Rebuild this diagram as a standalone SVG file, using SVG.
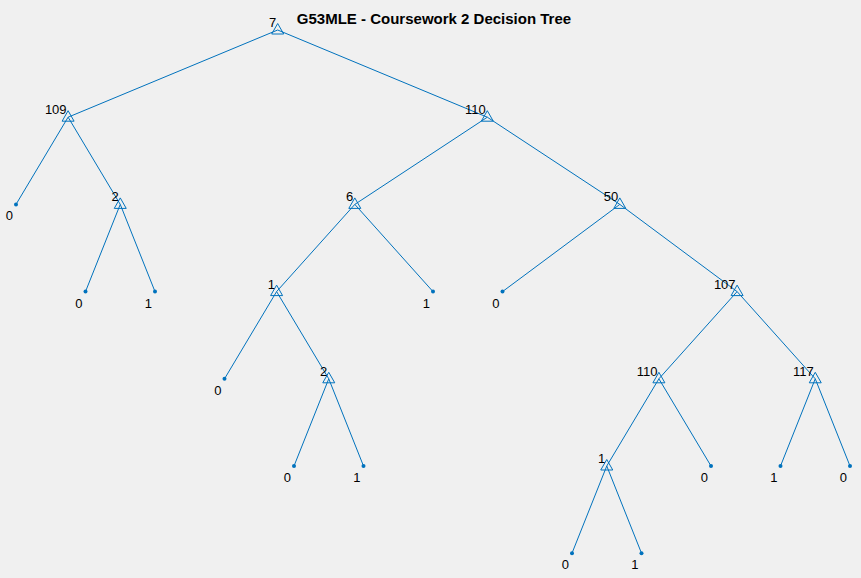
<svg xmlns="http://www.w3.org/2000/svg" xmlns:xlink="http://www.w3.org/1999/xlink" width="861" height="578" viewBox="0 0 861 578">
<style>
.bg{fill:#f0f0f0}
.edge{stroke:#0072bd;stroke-width:1;fill:none}
.tri{stroke:#0072bd;stroke-width:1;fill:none}
.dot{fill:#0072bd}
text{font-family:"Liberation Sans",Arial,sans-serif;font-size:13px;fill:#000}
.nl{text-anchor:end}
.ll{text-anchor:end}
.title{font-weight:bold;text-anchor:middle;font-size:15px}
</style>
<defs>
<polygon id="tri" class="tri" points="0,-6.5 -6,4 6,4"/>
<circle id="dot" class="dot" r="2"/>
</defs>
<rect class="bg" width="861" height="578"/>
<text class="title" x="434" y="23.5">G53MLE - Coursework 2 Decision Tree</text>
<g id="connectors">
<line class="edge" x1="277.7" y1="30" x2="68.1" y2="117.2"/>
<line class="edge" x1="277.7" y1="30" x2="487.3" y2="117.2"/>
<line class="edge" x1="68.1" y1="117.2" x2="16" y2="204.4"/>
<line class="edge" x1="68.1" y1="117.2" x2="120.25" y2="204.4"/>
<line class="edge" x1="120.25" y1="204.4" x2="85.5" y2="291.6"/>
<line class="edge" x1="120.25" y1="204.4" x2="155" y2="291.6"/>
<line class="edge" x1="487.3" y1="117.2" x2="354.8" y2="204.4"/>
<line class="edge" x1="487.3" y1="117.2" x2="619.8" y2="204.4"/>
<line class="edge" x1="354.8" y1="204.4" x2="276.6" y2="291.6"/>
<line class="edge" x1="354.8" y1="204.4" x2="433" y2="291.6"/>
<line class="edge" x1="276.6" y1="291.6" x2="224.5" y2="378.8"/>
<line class="edge" x1="276.6" y1="291.6" x2="328.75" y2="378.8"/>
<line class="edge" x1="328.75" y1="378.8" x2="294" y2="466"/>
<line class="edge" x1="328.75" y1="378.8" x2="363.5" y2="466"/>
<line class="edge" x1="619.8" y1="204.4" x2="502.5" y2="291.6"/>
<line class="edge" x1="619.8" y1="204.4" x2="737.1" y2="291.6"/>
<line class="edge" x1="737.1" y1="291.6" x2="658.9" y2="378.8"/>
<line class="edge" x1="737.1" y1="291.6" x2="815.25" y2="378.8"/>
<line class="edge" x1="658.9" y1="378.8" x2="606.75" y2="466"/>
<line class="edge" x1="658.9" y1="378.8" x2="711" y2="466"/>
<line class="edge" x1="606.75" y1="466" x2="572" y2="553.2"/>
<line class="edge" x1="606.75" y1="466" x2="641.5" y2="553.2"/>
<line class="edge" x1="815.25" y1="378.8" x2="780.5" y2="466"/>
<line class="edge" x1="815.25" y1="378.8" x2="850" y2="466"/>
</g>
<g id="n_root"><use xlink:href="#tri" x="277.7" y="30"/><text class="nl" x="276.2" y="27">7</text></g>
<g id="n_109"><use xlink:href="#tri" x="68.1" y="117.2"/><text class="nl" x="66.6" y="114.2">109</text></g>
<g id="n_110a"><use xlink:href="#tri" x="487.3" y="117.2"/><text class="nl" x="485.8" y="114.2">110</text></g>
<g id="n_2a"><use xlink:href="#tri" x="120.25" y="204.4"/><text class="nl" x="118.75" y="201.4">2</text></g>
<g id="n_6"><use xlink:href="#tri" x="354.8" y="204.4"/><text class="nl" x="353.3" y="201.4">6</text></g>
<g id="n_50"><use xlink:href="#tri" x="619.8" y="204.4"/><text class="nl" x="618.3" y="201.4">50</text></g>
<g id="n_1a"><use xlink:href="#tri" x="276.6" y="291.6"/><text class="nl" x="275.1" y="288.6">1</text></g>
<g id="n_107"><use xlink:href="#tri" x="737.1" y="291.6"/><text class="nl" x="735.6" y="288.6">107</text></g>
<g id="n_2b"><use xlink:href="#tri" x="328.75" y="378.8"/><text class="nl" x="327.25" y="375.8">2</text></g>
<g id="n_110b"><use xlink:href="#tri" x="658.9" y="378.8"/><text class="nl" x="657.4" y="375.8">110</text></g>
<g id="n_117"><use xlink:href="#tri" x="815.25" y="378.8"/><text class="nl" x="813.75" y="375.8">117</text></g>
<g id="n_1b"><use xlink:href="#tri" x="606.75" y="466"/><text class="nl" x="605.25" y="463">1</text></g>
<g id="leaf_1"><use xlink:href="#dot" x="16" y="204.4"/><text class="ll" x="13" y="220.4">0</text></g>
<g id="leaf_2"><use xlink:href="#dot" x="85.5" y="291.6"/><text class="ll" x="82.5" y="307.6">0</text></g>
<g id="leaf_3"><use xlink:href="#dot" x="155" y="291.6"/><text class="ll" x="152" y="307.6">1</text></g>
<g id="leaf_4"><use xlink:href="#dot" x="224.5" y="378.8"/><text class="ll" x="221.5" y="394.8">0</text></g>
<g id="leaf_5"><use xlink:href="#dot" x="294" y="466"/><text class="ll" x="291" y="482">0</text></g>
<g id="leaf_6"><use xlink:href="#dot" x="363.5" y="466"/><text class="ll" x="360.5" y="482">1</text></g>
<g id="leaf_7"><use xlink:href="#dot" x="433" y="291.6"/><text class="ll" x="430" y="307.6">1</text></g>
<g id="leaf_8"><use xlink:href="#dot" x="502.5" y="291.6"/><text class="ll" x="499.5" y="307.6">0</text></g>
<g id="leaf_9"><use xlink:href="#dot" x="572" y="553.2"/><text class="ll" x="569" y="569.2">0</text></g>
<g id="leaf_10"><use xlink:href="#dot" x="641.5" y="553.2"/><text class="ll" x="638.5" y="569.2">1</text></g>
<g id="leaf_11"><use xlink:href="#dot" x="711" y="466"/><text class="ll" x="708" y="482">0</text></g>
<g id="leaf_12"><use xlink:href="#dot" x="780.5" y="466"/><text class="ll" x="777.5" y="482">1</text></g>
<g id="leaf_13"><use xlink:href="#dot" x="850" y="466"/><text class="ll" x="847" y="482">0</text></g>
</svg>
